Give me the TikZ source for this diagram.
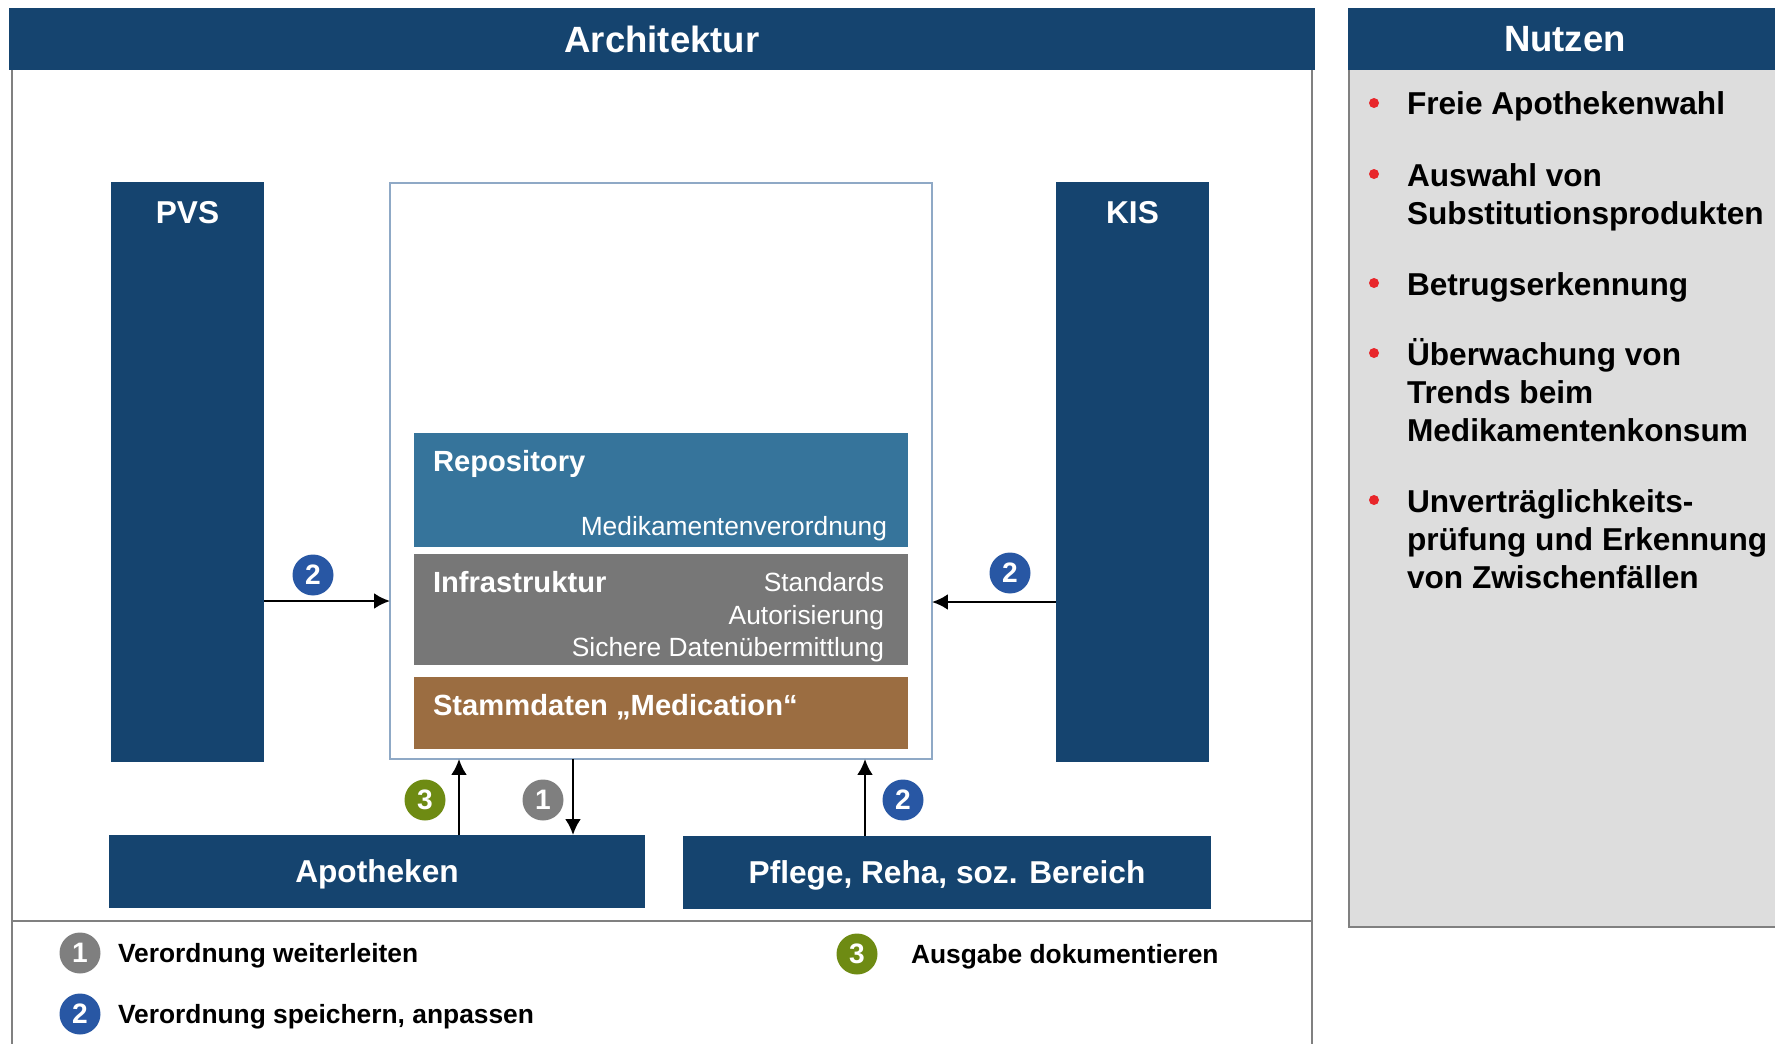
\documentclass[tikz,border=0pt]{standalone}
\usepackage{fontspec}
\setmainfont{Liberation Sans}
\usetikzlibrary{arrows.meta, positioning}
\definecolor{navy}{HTML}{15446F}
\definecolor{repoblue}{HTML}{36749B}
\definecolor{infragray}{HTML}{777777}
\definecolor{stammbrown}{HTML}{9B6D41}
\definecolor{badgeblue}{HTML}{2857A4}
\definecolor{badgegray}{HTML}{7F7F7F}
\definecolor{badgegreen}{HTML}{6E8B13}
\definecolor{panelgray}{HTML}{DDDDDD}
\definecolor{framegray}{HTML}{808080}
\definecolor{dotred}{HTML}{E8262A}
\definecolor{midline}{HTML}{8FA9C6}
\tikzstyle{every node}=[inner sep=0pt, outer sep=0pt]
\tikzstyle{headbar}=[rectangle, fill=navy, text=white, minimum height=6.2mm, text depth=0pt, font=\bfseries\fontsize{10.4}{12}\selectfont]
\tikzstyle{sysbox}=[rectangle, fill=navy, minimum width=15.3mm, minimum height=58mm]
\tikzstyle{endbox}=[rectangle, fill=navy, text=white, minimum height=7.3mm, text depth=0pt, font=\bfseries\fontsize{9}{11}\selectfont]
\tikzstyle{layerbox}=[rectangle, minimum width=49.4mm]
\tikzstyle{boldlbl}=[text=white, font=\bfseries\fontsize{9}{11}\selectfont]
\tikzstyle{layerlbl}=[text=white, font=\bfseries\fontsize{8.3}{10}\selectfont]
\tikzstyle{layersub}=[text=white, font=\fontsize{7.5}{9.25}\selectfont]
\tikzstyle{badge}=[circle, minimum size=4.1mm, text=white, font=\bfseries\fontsize{8}{8}\selectfont]
\tikzstyle{legtxt}=[anchor=base west, font=\bfseries\fontsize{7.5}{9}\selectfont]
\tikzstyle{itemtxt}=[anchor=base west, align=left, font=\bfseries\fontsize{9}{10.8}\selectfont]
\tikzstyle{reddot}=[circle, fill=dotred, minimum size=1.0mm]
\tikzstyle{arr}=[-{Latex[length=1.6mm, width=1.6mm]}, line width=0.7pt]

\begin{document}
\begin{tikzpicture}[x=0.1mm, y=-0.1mm]
    \useasboundingbox (0,0) rectangle (1775,1044);
    \draw[draw=framegray, line width=0.2mm] (12,70) -- (12,1060) (1312,70) -- (1312,1060) (12,921) -- (1312,921);
    \node       [headbar, minimum width=130.6mm]    (archHead)  at (662,39)     {Architektur};
    \node       [headbar, minimum width=43.4mm]     (nutzHead)  at (1565,39)    {Nutzen};
    \node       [fill=panelgray, minimum width=43.3mm, minimum height=85.7mm] (panel) at (1565.5,498.5) {};
    \draw[draw=framegray, line width=0.25mm] (panel.north west) -- (panel.south west) -- (panel.south east);

    \node       [sysbox]    (PVS)   at (187.5,472)  {};
    \node       [sysbox]    (KIS)   at (1132.5,472) {};
    \node       [boldlbl, anchor=base]  (pvsLbl)  at ([yshift=-4.1mm]PVS.north) {PVS};
    \node       [boldlbl, anchor=base]  (kisLbl)  at ([yshift=-4.1mm]KIS.north) {KIS};

    \node       [draw=midline, line width=0.4pt, fill=white, minimum width=54.2mm, minimum height=57.6mm] (mid) at (661,471) {};
    \node       [layerbox, fill=repoblue, minimum height=11.4mm]    (repo)  at (661,490)    {};
    \node       [layerbox, fill=infragray, minimum height=11.1mm]   (infra) at (661,609.5)  {};
    \node       [layerbox, fill=stammbrown, minimum height=7.2mm]   (stamm) at (661,713)    {};
    \node       [layerlbl, anchor=base west]    (repoLbl)   at ([xshift=1.9mm, yshift=-3.9mm]repo.north west)   {Repository};
    \node       [layersub, anchor=base east]    (repoSub)   at ([xshift=-2.1mm, yshift=1.2mm]repo.south east)   {Medikamentenverordnung};
    \node       [layerlbl, anchor=base west]    (infraLbl)  at ([xshift=1.9mm, yshift=-3.8mm]infra.north west)  {Infrastruktur};
    \node       [layersub, anchor=base east, align=right] (infraSub) at ([xshift=-2.4mm, yshift=0.8mm]infra.south east) {Standards\\Autorisierung\\Sichere Datenübermittlung};
    \node       [layerlbl, anchor=base west]    (stammLbl)  at ([xshift=1.9mm, yshift=-3.8mm]stamm.north west)  {Stammdaten „Medication“};

    \node       [endbox, minimum width=53.6mm] (apo)    at (377,871.5)  {Apotheken};
    \node       [endbox, minimum width=52.8mm] (care)   at (947,872.5)  {Pflege, Reha, soz. Bereich};

    \draw[arr] (PVS.east |- 0,601) -- (mid.west |- 0,601);
    \draw[arr] (KIS.west |- 0,602) -- (mid.east |- 0,602);
    \draw[arr] (apo.north -| 459,0) -- (mid.south -| 459,0);
    \draw[arr] (mid.south -| 573,0) -- (apo.north -| 573,0);
    \draw[arr] (care.north -| 865,0) -- (mid.south -| 865,0);

    \node       [badge, fill=badgeblue]     (bPVS)  at (313,575)    {2};
    \node       [badge, fill=badgeblue]     (bKIS)  at (1010,573)   {2};
    \node       [badge, fill=badgegreen]    (bApoU) at (425,800)    {3};
    \node       [badge, fill=badgegray]     (bApoD) at (543,800)    {1};
    \node       [badge, fill=badgeblue]     (bCare) at (903,800)    {2};

    \node       [badge, fill=badgegray]     (leg1)  at (80,953)     {1};
    \node       [badge, fill=badgeblue]     (leg2)  at (80,1014)    {2};
    \node       [badge, fill=badgegreen]    (leg3)  at (857,954)    {3};
    \node       [legtxt]    (legT1) at (118,962)    {Verordnung weiterleiten};
    \node       [legtxt]    (legT2) at (118,1023)   {Verordnung speichern, anpassen};
    \node       [legtxt]    (legT3) at (911,963)    {Ausgabe dokumentieren};

    \node       [itemtxt]   (it1)   at (1407,115)   {Freie Apothekenwahl};
    \node       [itemtxt]   (it2)   at (1407,224)   {Auswahl von\\Substitutionsprodukten};
    \node       [itemtxt]   (it3)   at (1407,295)   {Betrugserkennung};
    \node       [itemtxt]   (it4)   at (1407,441)   {Überwachung von\\Trends beim\\Medikamentenkonsum};
    \node       [itemtxt]   (it5)   at (1407,588)   {Unverträglichkeits-\\prüfung und Erkennung\\von Zwischenfällen};
    \node       [reddot]    (d1)    at ([xshift=-3.3mm, yshift=1.2mm]it1.base west) {};
    \node       [reddot]    (d2)    at ([xshift=-3.3mm, yshift=5.0mm]it2.base west) {};
    \node       [reddot]    (d3)    at ([xshift=-3.3mm, yshift=1.2mm]it3.base west) {};
    \node       [reddot]    (d4)    at ([xshift=-3.3mm, yshift=8.8mm]it4.base west) {};
    \node       [reddot]    (d5)    at ([xshift=-3.3mm, yshift=8.8mm]it5.base west) {};
\end{tikzpicture}
\end{document}
